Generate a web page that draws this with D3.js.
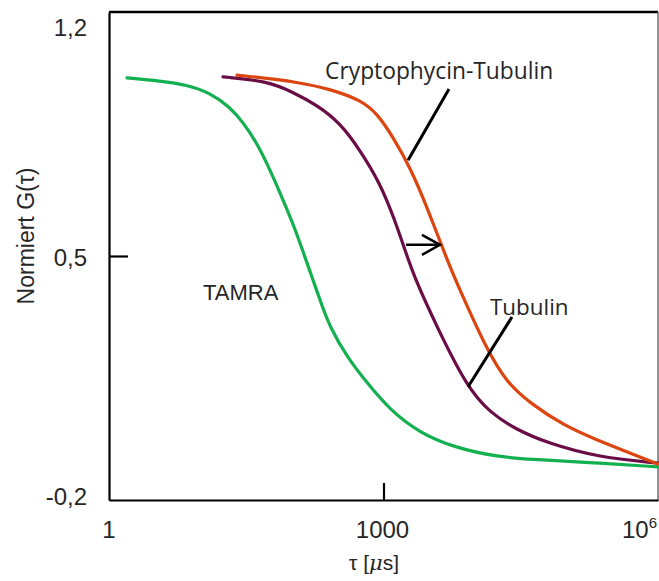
<!DOCTYPE html>
<html>
<head>
<meta charset="utf-8">
<script src="https://cdn.jsdelivr.net/npm/d3@7"></script>
<style>
  html, body { margin: 0; padding: 0; background: #fff; }
  svg { display: block; }
</style>
</head>
<body>
<svg id="chart" width="659" height="581"></svg>
<script>
// ---- data (x = log10 of tau in µs, y = normalised G(tau)) ----
const tamraLogTau = [0.197, 0.557, 0.852, 1.104, 1.322, 1.464, 1.617, 1.760, 1.902, 2.038, 2.137, 2.230, 2.328, 2.415, 2.601, 2.820, 3.071, 3.399, 3.760, 4.240, 4.710, 5.366, 6.0];
const tamraG      = [1.011, 1.002, 0.991, 0.968, 0.927, 0.884, 0.824, 0.747, 0.661, 0.575, 0.500, 0.431, 0.357, 0.296, 0.210, 0.136, 0.058, -0.008, -0.048, -0.077, -0.085, -0.094, -0.105];

const tubulinLogTau = [1.246, 1.727, 2.011, 2.273, 2.525, 2.743, 2.962, 3.115, 3.235, 3.344, 3.585, 3.913, 4.164, 4.459, 4.787, 5.333, 6.0];
const tubulinG      = [1.014, 1.002, 0.970, 0.933, 0.882, 0.804, 0.709, 0.609, 0.517, 0.434, 0.296, 0.124, 0.050, 0.001, -0.036, -0.077, -0.094];

const cryptoLogTau = [1.399, 2.087, 2.448, 2.743, 2.929, 3.104, 3.290, 3.475, 3.694, 3.836, 4.131, 4.350, 4.601, 4.962, 5.333, 5.694, 6.0];
const cryptoG      = [1.019, 0.999, 0.976, 0.948, 0.910, 0.841, 0.755, 0.641, 0.489, 0.402, 0.230, 0.136, 0.078, 0.015, -0.028, -0.065, -0.097];

const yTickValues = [1.2, 0.5, -0.2];
const yTickLabels = ["1,2", "0,5", "-0,2"];
const xTickValues = [1, 1000, 1e6];

// annotations in data units: [log10 tau, G]
const cryptoLeader  = [[3.716, 0.979], [3.268, 0.775]];
const tubulinLeader = [[4.404, 0.325], [3.923, 0.124]];
const shiftArrow    = [[3.246, 0.532], [3.617, 0.532]];
const cryptoLabelPos  = [2.361, 1.008];
const tubulinLabelPos = [4.164, 0.331];
const tamraLabelPos   = [1.027, 0.374];

// ---- layout ----
const svg = d3.select("#chart");
const mLeft = 109, mRight = 658, mTop = 12, mBottom = 500;

const x = d3.scaleLog().domain([1, 1e6]).range([mLeft, mRight]);
const y = d3.scaleLinear().domain([-0.2, 1.2]).range([mBottom, mTop]);
const lx = v => x(Math.pow(10, v));

const tickFont = "'Liberation Sans', Arial, sans-serif";
const annFont = "'Open Sans', 'Noto Sans', sans-serif";
const textColor = "#262626";

// frame: top black, right thin gray
svg.append("line").attr("x1", mLeft).attr("x2", mRight).attr("y1", mTop).attr("y2", mTop)
  .attr("stroke", "#000").attr("stroke-width", 2.5);
svg.append("line").attr("x1", mRight).attr("x2", mRight).attr("y1", mTop).attr("y2", mBottom)
  .attr("stroke", "#595959").attr("stroke-width", 1.3);

// left axis
const yAxis = d3.axisLeft(y).tickValues([0.5]).tickSize(-19).tickSizeOuter(0).tickFormat("");
const gy = svg.append("g").attr("transform", `translate(${mLeft},0)`).call(yAxis);
gy.select(".domain").attr("stroke", "#000").attr("stroke-width", 2.2);
gy.selectAll(".tick line").attr("stroke", "#000").attr("stroke-width", 2.2);

// bottom axis
const xAxis = d3.axisBottom(x).tickValues([1000]).tickSize(-17).tickSizeOuter(0).tickFormat("");
const gx = svg.append("g").attr("transform", `translate(0,${mBottom})`).call(xAxis);
gx.select(".domain").attr("stroke", "#000").attr("stroke-width", 2.2);
gx.selectAll(".tick line").attr("stroke", "#000").attr("stroke-width", 2.2);

// y tick labels (offset vertically as in the original)
const yLabelShift = [24, 10, 5];
yTickValues.forEach((v, i) => {
  svg.append("text")
    .attr("x", 87).attr("y", y(v) + yLabelShift[i])
    .attr("text-anchor", "end")
    .attr("font-family", tickFont).attr("font-size", 24)
    .attr("fill", textColor)
    .text(yTickLabels[i]);
});

// x tick labels
svg.append("text").attr("x", x(xTickValues[0])).attr("y", 538)
  .attr("text-anchor", "middle").attr("font-family", tickFont).attr("font-size", 24)
  .attr("fill", textColor).text("1");
svg.append("text").attr("x", x(xTickValues[1]) - 1).attr("y", 538)
  .attr("text-anchor", "middle").attr("font-family", tickFont).attr("font-size", 24)
  .attr("fill", textColor).text("1000");
const t6 = svg.append("text").attr("x", x(xTickValues[2]) - 1).attr("y", 538)
  .attr("text-anchor", "end").attr("font-family", tickFont).attr("font-size", 24)
  .attr("fill", textColor);
t6.append("tspan").text("10");
t6.append("tspan").attr("font-size", 15).attr("dy", -10).text("6");

// axis titles
const xt = svg.append("text").attr("x", 374).attr("y", 570)
  .attr("text-anchor", "middle").attr("font-family", tickFont).attr("font-size", 21)
  .attr("fill", textColor);
xt.append("tspan").text("τ [");
xt.append("tspan").attr("font-style", "italic").attr("font-family", "'DejaVu Serif', serif").text("μ");
xt.append("tspan").text("s]");

svg.append("text")
  .attr("transform", "translate(34,236) rotate(-90)")
  .attr("text-anchor", "middle").attr("font-family", tickFont).attr("font-size", 23)
  .attr("fill", textColor).text("Normiert G(τ)");

// curves
const line = d3.line().x(d => lx(d[0])).y(d => y(d[1])).curve(d3.curveBasis);
const series = [
  { xs: tamraLogTau, ys: tamraG, color: "#12b04f" },
  { xs: tubulinLogTau, ys: tubulinG, color: "#6a0c46" },
  { xs: cryptoLogTau, ys: cryptoG, color: "#dc4510" }
];
series.forEach(s => {
  svg.append("path")
    .datum(s.xs.map((v, i) => [v, s.ys[i]]))
    .attr("d", line)
    .attr("fill", "none").attr("stroke", s.color).attr("stroke-width", 3.2)
    .attr("stroke-linecap", "round").attr("stroke-linejoin", "round");
});

// leaders
[cryptoLeader, tubulinLeader].forEach(seg => {
  svg.append("line")
    .attr("x1", lx(seg[0][0])).attr("y1", y(seg[0][1]))
    .attr("x2", lx(seg[1][0])).attr("y2", y(seg[1][1]))
    .attr("stroke", "#000").attr("stroke-width", 3);
});

// arrow
const ax1 = lx(shiftArrow[0][0]), ay = y(shiftArrow[0][1]), ax2 = lx(shiftArrow[1][0]);
svg.append("line").attr("x1", ax1).attr("y1", ay).attr("x2", ax2).attr("y2", ay)
  .attr("stroke", "#000").attr("stroke-width", 2.5);
svg.append("path")
  .attr("d", `M${ax2 - 18},${ay - 10}L${ax2},${ay}L${ax2 - 18},${ay + 10}`)
  .attr("fill", "none").attr("stroke", "#000").attr("stroke-width", 2.5);

// labels
svg.append("text").attr("x", lx(cryptoLabelPos[0])).attr("y", y(cryptoLabelPos[1]))
  .attr("font-family", annFont).attr("font-size", 22.8).attr("fill", textColor)
  .text("Cryptophycin-Tubulin");
svg.append("text").attr("x", lx(tubulinLabelPos[0])).attr("y", y(tubulinLabelPos[1]))
  .attr("font-family", annFont).attr("font-size", 22.4).attr("fill", textColor)
  .text("Tubulin");
svg.append("text").attr("x", lx(tamraLabelPos[0])).attr("y", y(tamraLabelPos[1]))
  .attr("font-family", tickFont).attr("font-size", 22).attr("fill", textColor)
  .text("TAMRA");
</script>
</body>
</html>
